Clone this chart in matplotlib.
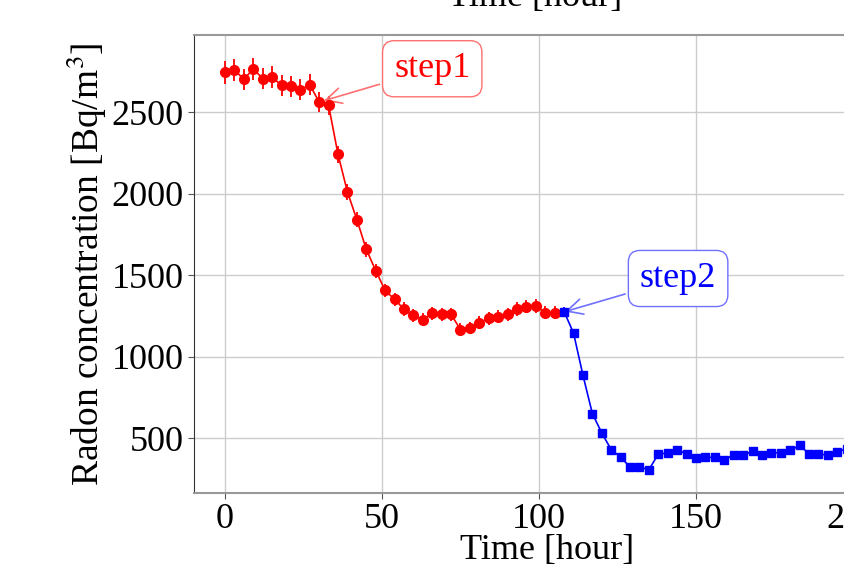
import numpy as np
import matplotlib
matplotlib.use('Agg')
import matplotlib.pyplot as plt

plt.rcParams['font.family'] = ['Liberation Serif', 'DejaVu Serif']
plt.rcParams['mathtext.fontset'] = 'stix'

# Данные: шаг 1 (красные точки)
t_step1 = np.arange(0, 106, 3)
rn_step1 = [2747, 2762, 2702, 2768, 2707, 2717, 2666, 2660, 2639, 2670, 2563, 2543,
            2242, 2011, 1842, 1660, 1529, 1408, 1353, 1293, 1255, 1228, 1269, 1261,
            1261, 1167, 1177, 1210, 1236, 1247, 1261, 1293, 1308, 1314, 1271, 1271]
err_step1 = [70, 68, 66, 68, 66, 66, 64, 64, 63, 64, 60, 58,
             52, 50, 48, 46, 44, 42, 42, 41, 40, 40, 40, 40,
             40, 38, 38, 39, 40, 40, 40, 41, 41, 42, 40, 40]

# Данные: шаг 2 (синие квадраты)
t_step2 = np.arange(108, 199, 3)
rn_step2 = [1278, 1146, 887, 652, 533, 431, 385, 324, 324, 308, 404, 410, 431, 404,
            382, 383, 383, 369, 398, 398, 420, 396, 412, 412, 426, 457, 406, 406,
            396, 418, 437]
err_step2 = [30, 28, 25, 22, 20, 18, 17, 16, 16, 16, 17, 17, 18, 17,
             17, 17, 17, 16, 17, 17, 18, 17, 17, 17, 18, 18, 17, 17,
             17, 17, 18]

x_ticks = [0, 50, 100, 150, 200]
y_ticks = [500, 1000, 1500, 2000, 2500]

fig = plt.figure(figsize=(8.45, 5.68), dpi=100)
ax = fig.add_axes([193.6 / 845, 1 - 493 / 568, 706.5 / 845, 458 / 568])

ax.errorbar(t_step1, rn_step1, yerr=err_step1, color='red', marker='o', ms=7,
            lw=1.2, elinewidth=1.3, capsize=0, zorder=3)
ax.errorbar(t_step2, rn_step2, yerr=err_step2, color='blue', marker='s', ms=6,
            lw=1.2, elinewidth=1.3, capsize=0, zorder=3)

ax.set_xlim(-10, 215)
ax.set_ylim(165, 2975)
ax.set_xticks(x_ticks)
ax.set_yticks(y_ticks)
ax.grid(True, color='#cccccc', lw=1)
ax.set_axisbelow(True)
ax.tick_params(direction='out', length=4, color='#555555', labelsize=26, pad=3)

for side in ['top', 'bottom']:
    ax.spines[side].set_color('#999999')
    ax.spines[side].set_linewidth(1.5)
ax.spines['left'].set_color('#333333')
ax.spines['right'].set_visible(False)

ax.set_xlabel('Time [hour]', fontsize=26, labelpad=-1)
ax.set_ylabel('Radon concentration [Bq/m$^3$]', fontsize=27, labelpad=2)

ax.annotate('step1', xy=(31.5, 2572), xytext=(66, 2768), ha='center', va='center',
            color='red', fontsize=26,
            bbox=dict(boxstyle='round,pad=0.32', fc='white', ec='#ff7070'),
            arrowprops=dict(arrowstyle='->', color='#ff7070', lw=1.2,
                            mutation_scale=28, shrinkB=0))
ax.annotate('step2', xy=(108.3, 1278), xytext=(144.3, 1481), ha='center', va='center',
            color='blue', fontsize=26,
            bbox=dict(boxstyle='round,pad=0.32', fc='white', ec='#7070ff'),
            arrowprops=dict(arrowstyle='->', color='#7070ff', lw=1.2,
                            mutation_scale=28, shrinkB=0))

# обрезанная подпись от верхнего графика
fig.text(535 / 845, 1 - 6 / 568, 'Time [hour]', ha='center', va='baseline', fontsize=26)

fig.savefig('out.png', dpi=100)
